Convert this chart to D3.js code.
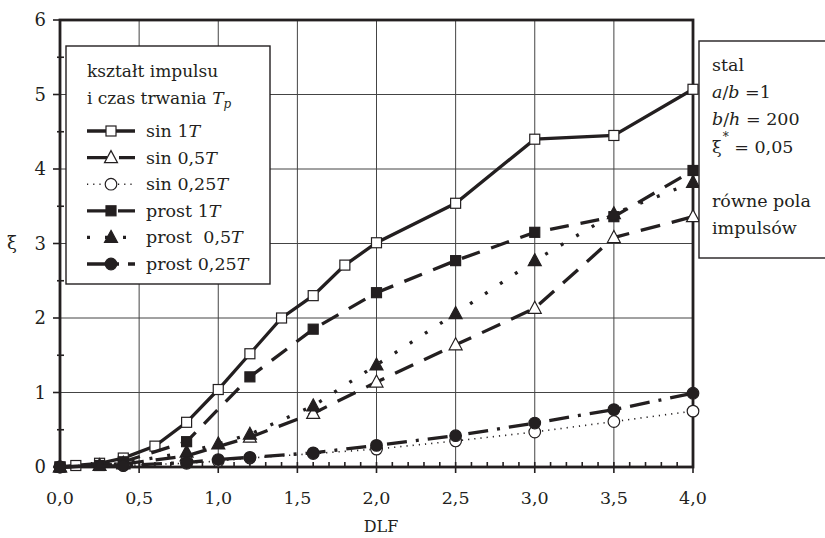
<!DOCTYPE html>
<html>
<head>
<meta charset="utf-8">
<script src="https://cdn.jsdelivr.net/npm/d3@7"></script>
<style>
body { margin: 0; background: #fff; }
text { font-family: "DejaVu Serif", serif; fill: #231f20; }
</style>
</head>
<body>
<div id="chart"></div>
<script>
var width = 825, height = 538;

// axis ticks
var xTicks = [0, 0.5, 1, 1.5, 2, 2.5, 3, 3.5, 4];
var xTickLabels = ['0,0', '0,5', '1,0', '1,5', '2,0', '2,5', '3,0', '3,5', '4,0'];
var yTicks = [0, 1, 2, 3, 4, 5, 6];
var yTickLabels = ['0', '1', '2', '3', '4', '5', '6'];

// series (DLF, xi)
var sin1T_x = [0, 0.1, 0.25, 0.4, 0.6, 0.8, 1.0, 1.2, 1.4, 1.6, 1.8, 2.0, 2.5, 3.0, 3.5, 4.0];
var sin1T_y = [0, 0.02, 0.05, 0.12, 0.28, 0.6, 1.04, 1.52, 2.0, 2.3, 2.71, 3.01, 3.54, 4.4, 4.45, 5.07];

var sin05T_x = [0, 0.4, 0.8, 1.2, 1.6, 2.0, 2.5, 3.0, 3.5, 4.0];
var sin05T_y = [0, 0.04, 0.15, 0.4, 0.72, 1.14, 1.64, 2.13, 3.08, 3.36];

var sin025T_x = [0, 0.4, 0.8, 1.0, 1.2, 1.6, 2.0, 2.5, 3.0, 3.5, 4.0];
var sin025T_y = [0, 0.02, 0.05, 0.08, 0.12, 0.18, 0.24, 0.35, 0.47, 0.61, 0.75];

var prost1T_x = [0, 0.25, 0.4, 0.8, 1.2, 1.6, 2.0, 2.5, 3.0, 3.5, 4.0];
var prost1T_y = [0, 0.02, 0.07, 0.34, 1.21, 1.85, 2.34, 2.77, 3.15, 3.36, 3.98];

var prost05T_x = [0, 0.25, 0.4, 0.8, 1.0, 1.2, 1.6, 2.0, 2.5, 3.0, 3.5, 4.0];
var prost05T_y = [0, 0.02, 0.05, 0.2, 0.31, 0.44, 0.82, 1.37, 2.06, 2.77, 3.4, 3.82];

var prost025T_x = [0, 0.4, 0.8, 1.0, 1.2, 1.6, 2.0, 2.5, 3.0, 3.5, 4.0];
var prost025T_y = [0, 0.02, 0.06, 0.1, 0.13, 0.19, 0.29, 0.42, 0.59, 0.77, 0.99];

var legendNames = ['sin 1', 'sin 0,5', 'sin 0,25', 'prost 1', 'prost  0,5', 'prost 0,25'];

function zip(xs, ys) { return xs.map(function (x, i) { return { x: x, y: ys[i] }; }); }

var series = [
    { name: legendNames[0], data: zip(sin1T_x, sin1T_y), marker: 'square', fill: '#fff', dash: null, w: 3.3 },
    { name: legendNames[1], data: zip(sin05T_x, sin05T_y), marker: 'triangle', fill: '#fff', dash: '20,12', w: 3.3 },
    { name: legendNames[2], data: zip(sin025T_x, sin025T_y), marker: 'circle', fill: '#fff', dash: '1.2,5', w: 1.6 },
    { name: legendNames[3], data: zip(prost1T_x, prost1T_y), marker: 'square', fill: '#231f20', dash: '19,12', w: 3.3 },
    { name: legendNames[4], data: zip(prost05T_x, prost05T_y), marker: 'triangle', fill: '#231f20', dash: '3,15', w: 3.3 },
    { name: legendNames[5], data: zip(prost025T_x, prost025T_y), marker: 'circle', fill: '#231f20', dash: '20,9,3,9', w: 3.3 }
];

var pLeft = 60, pRight = 693, pTop = 20, pBottom = 467;
var x = d3.scaleLinear().domain([0, 4]).range([pLeft, pRight]);
var y = d3.scaleLinear().domain([0, 6]).range([pBottom, pTop]);

var svg = d3.select('#chart').append('svg')
    .attr('width', width)
    .attr('height', height);

// grid
svg.append('g').selectAll('line').data(xTicks.slice(1, -1)).enter().append('line')
    .attr('x1', function (d) { return x(d); }).attr('x2', function (d) { return x(d); })
    .attr('y1', pTop).attr('y2', pBottom)
    .attr('stroke', '#444').attr('stroke-width', 1);
svg.append('g').selectAll('line').data(yTicks.slice(1, -1)).enter().append('line')
    .attr('y1', function (d) { return y(d); }).attr('y2', function (d) { return y(d); })
    .attr('x1', pLeft).attr('x2', pRight)
    .attr('stroke', '#444').attr('stroke-width', 1);

// minor ticks on x axis (every 0.1, pointing up)
var xMinor = d3.range(0, 41).map(function (i) { return i / 10; });
svg.append('g').selectAll('line').data(xMinor).enter().append('line')
    .attr('x1', function (d) { return x(d); }).attr('x2', function (d) { return x(d); })
    .attr('y1', pBottom).attr('y2', pBottom - 5)
    .attr('stroke', '#231f20').attr('stroke-width', 1.6);
// major x ticks pointing down
svg.append('g').selectAll('line').data(xTicks).enter().append('line')
    .attr('x1', function (d) { return x(d); }).attr('x2', function (d) { return x(d); })
    .attr('y1', pBottom).attr('y2', pBottom + 6)
    .attr('stroke', '#231f20').attr('stroke-width', 1.6);
// y ticks
svg.append('g').selectAll('line').data(yTicks).enter().append('line')
    .attr('y1', function (d) { return y(d); }).attr('y2', function (d) { return y(d); })
    .attr('x1', pLeft - 7).attr('x2', pLeft)
    .attr('stroke', '#231f20').attr('stroke-width', 1.6);
svg.append('g').selectAll('line').data(d3.range(0.5, 6, 1)).enter().append('line')
    .attr('y1', function (d) { return y(d); }).attr('y2', function (d) { return y(d); })
    .attr('x1', pLeft - 3).attr('x2', pLeft + 4)
    .attr('stroke', '#231f20').attr('stroke-width', 1.6);

// frame
svg.append('rect')
    .attr('x', pLeft).attr('y', pTop)
    .attr('width', pRight - pLeft).attr('height', pBottom - pTop)
    .attr('fill', 'none').attr('stroke', '#231f20').attr('stroke-width', 2.8);

// tick labels
svg.append('g').selectAll('text').data(xTicks).enter().append('text')
    .attr('x', function (d) { return x(d); })
    .attr('y', 504)
    .attr('text-anchor', 'middle')
    .style('font-size', '17.5px')
    .text(function (d, i) { return xTickLabels[i]; });
svg.append('g').selectAll('text').data(yTicks).enter().append('text')
    .attr('x', 46)
    .attr('y', function (d) { return y(d) + 6; })
    .attr('text-anchor', 'end')
    .style('font-size', '18px')
    .text(function (d, i) { return yTickLabels[i]; });

svg.append('text').attr('x', 381).attr('y', 532).attr('text-anchor', 'middle')
    .style('font-size', '16px').text('DLF');
svg.append('text').attr('x', 12).attr('y', 249).attr('text-anchor', 'middle')
    .style('font-size', '18px').text('ξ');

function drawMarker(g, type, cx, cy, fill) {
    if (type === 'square') {
        g.append('rect').attr('x', cx - 5).attr('y', cy - 5).attr('width', 10).attr('height', 10)
            .attr('fill', fill).attr('stroke', '#231f20').attr('stroke-width', 1.2);
    } else if (type === 'triangle') {
        g.append('path').attr('d', 'M' + cx + ',' + (cy - 7) + 'L' + (cx + 6.5) + ',' + (cy + 5) + 'L' + (cx - 6.5) + ',' + (cy + 5) + 'Z')
            .attr('fill', fill).attr('stroke', '#231f20').attr('stroke-width', 1.2);
    } else {
        g.append('circle').attr('cx', cx).attr('cy', cy).attr('r', 5.8)
            .attr('fill', fill).attr('stroke', '#231f20').attr('stroke-width', 1.2);
    }
}

var line = d3.line().x(function (d) { return x(d.x); }).y(function (d) { return y(d.y); });

series.forEach(function (s) {
    var g = svg.append('g');
    g.append('path').datum(s.data).attr('d', line)
        .attr('fill', 'none').attr('stroke', '#231f20').attr('stroke-width', s.w)
        .attr('stroke-dasharray', s.dash);
    s.data.forEach(function (d) { drawMarker(g, s.marker, x(d.x), y(d.y), s.fill); });
});

// legend
var lg = svg.append('g');
lg.append('rect').attr('x', 66).attr('y', 46).attr('width', 204).attr('height', 238)
    .attr('fill', '#fff').attr('stroke', '#231f20').attr('stroke-width', 1.4);
lg.append('text').attr('x', 87).attr('y', 77).style('font-size', '17px').text('kształt impulsu');
var t2 = lg.append('text').attr('x', 87).attr('y', 104).style('font-size', '17px');
t2.append('tspan').text('i czas trwania ');
t2.append('tspan').style('font-style', 'italic').text('T');
t2.append('tspan').style('font-style', 'italic').style('font-size', '12px').attr('dy', 4).text('p');

series.forEach(function (s, i) {
    var by = 137 + i * 26.6;
    var ly = by - 6;
    lg.append('line').attr('x1', 87).attr('x2', 135).attr('y1', ly).attr('y2', ly)
        .attr('stroke', '#231f20').attr('stroke-width', s.w).attr('stroke-dasharray', s.dash);
    drawMarker(lg, s.marker, 111, ly, s.fill);
    var t = lg.append('text').attr('x', 146).attr('y', by).style('font-size', '17.5px')
        .style('white-space', 'pre');
    t.append('tspan').text(s.name);
    t.append('tspan').style('font-style', 'italic').text('T');
});

// info box
var ib = svg.append('g');
ib.append('rect').attr('x', 699).attr('y', 41).attr('width', 140).attr('height', 217)
    .attr('fill', '#fff').attr('stroke', '#231f20').attr('stroke-width', 1.4);
var infoLines = [
    [['stal', '']],
    [['a', 'i'], ['/', ''], ['b', 'i'], [' =1', '']],
    [['b', 'i'], ['/', ''], ['h', 'i'], [' = 200', '']],
    [['ξ', ''], ['*', 'sup'], [' = 0,05', 'down']],
    [],
    [['równe pola', '']],
    [['impulsów', '']]
];
infoLines.forEach(function (parts, i) {
    var t = ib.append('text').attr('x', 712).attr('y', 71 + i * 27.2)
        .style('font-size', '17.5px').style('white-space', 'pre');
    parts.forEach(function (p) {
        var ts = t.append('tspan').text(p[0]);
        if (p[1] === 'i') ts.style('font-style', 'italic');
        if (p[1] === 'sup') ts.attr('dy', -12).attr('dx', 1).style('font-size', '12px');
        if (p[1] === 'down') ts.attr('dy', 12);
    });
});
</script>
</body>
</html>
